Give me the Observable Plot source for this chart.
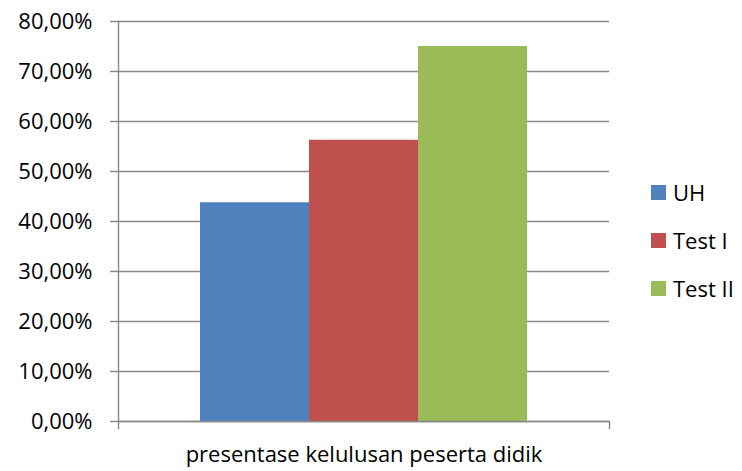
<!DOCTYPE html>
<html>
<head>
<meta charset="utf-8">
<script src="https://cdn.jsdelivr.net/npm/d3@7"></script>
<script src="https://cdn.jsdelivr.net/npm/@observablehq/plot@0.6"></script>
<style>
  html, body { margin: 0; padding: 0; background: #fff; }
  #wrap { position: relative; width: 742px; height: 471px; font-family: "Open Sans", sans-serif; }
  #legend { position: absolute; left: 651px; top: 178px; font-size: 22px; color: #000; }
  .row { display: flex; align-items: center; height: 28px; margin-bottom: 20px; }
  .sw { width: 15px; height: 15px; margin-right: 7px; }
</style>
</head>
<body>
<div id="wrap"><div id="legend"></div></div>
<script>
const seriesNames = ["UH", "Test I", "Test II"];
const values = [0.4375, 0.5625, 0.75];
const category = "presentase kelulusan peserta didik";
const yTicks = [0, 0.1, 0.2, 0.3, 0.4, 0.5, 0.6, 0.7, 0.8];
const colors = ["#4F81BD", "#C0504D", "#9BBB59"];

const data = seriesNames.map((s, i) => ({series: s, value: values[i]}));
const fmt = d => (d * 100).toFixed(2).replace(".", ",") + "%";
const gridColor = "#888888";
const W = 742, H = 471, mT = 21, mB = 50, mL = 118, mR = 133;
const tickLen = 7;

const chart = Plot.plot({
  width: W, height: H,
  marginTop: mT, marginBottom: mB, marginLeft: mL, marginRight: mR,
  style: {fontFamily: "Open Sans, sans-serif", fontSize: "22px", color: "#000", background: "transparent"},
  x: {domain: seriesNames, paddingInner: 0, paddingOuter: 0.745},
  y: {domain: [0, 0.8]},
  color: {domain: seriesNames, range: colors},
  marks: [
    Plot.gridY(yTicks, {stroke: gridColor, strokeOpacity: 1, strokeWidth: 1.4}),
    Plot.barY(data, {x: "series", y: "value", fill: "series"}),
    Plot.axisY(yTicks, {tickSize: 8, tickPadding: 18, tickFormat: fmt, stroke: gridColor, strokeOpacity: 1, strokeWidth: 1.4, label: null, fontSize: 22, fill: "#000"}),
    Plot.ruleY([0], {stroke: gridColor, strokeWidth: 1.4}),
    Plot.frame({anchor: "left", stroke: gridColor, strokeWidth: 1.4, insetBottom: -tickLen}),
    Plot.frame({anchor: "right", stroke: gridColor, strokeWidth: 1.4, insetBottom: -tickLen, insetTop: H - mT - mB}),
    Plot.axisX({ticks: [], tickSize: 0, label: category, labelAnchor: "center", labelOffset: 40, fontSize: 22, fill: "#000"})
  ]
});
const wrap = document.getElementById("wrap");
wrap.insertBefore(chart, wrap.firstChild);

const legend = document.getElementById("legend");
seriesNames.forEach((s, i) => {
  const row = document.createElement("div");
  row.className = "row";
  const sw = document.createElement("div");
  sw.className = "sw";
  sw.style.background = colors[i];
  const t = document.createElement("span");
  t.textContent = s;
  row.appendChild(sw); row.appendChild(t);
  legend.appendChild(row);
});
</script>
</body>
</html>
